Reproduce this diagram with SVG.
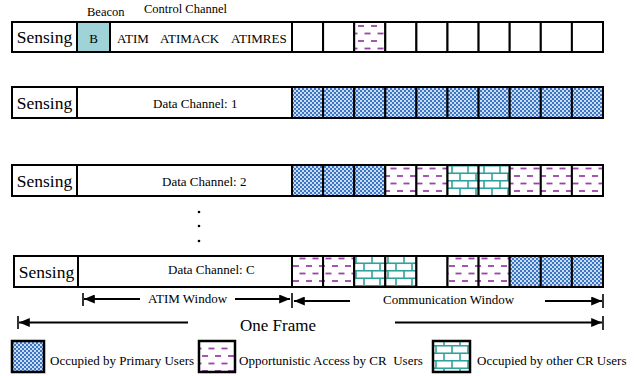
<svg xmlns="http://www.w3.org/2000/svg" width="638" height="376" viewBox="0 0 638 376">
<style>
.cell{stroke:#000;stroke-width:2}
.w{fill:#fff}
.bc{fill:#9fd3d7}
.pu{fill:url(#pu)}
.op{fill:url(#op)}
.cr{fill:url(#cr)}
.lbl{font-family:"Liberation Serif","Times New Roman",serif;fill:#000}
.sens{font-size:17.5px}
.t13{font-size:13px}
.t12{font-size:12.5px}
.big{font-size:17px}
.ln{stroke:#000;stroke-width:2;fill:none}
.tick{stroke:#000;stroke-width:1.6}
.lg{stroke:#000;stroke-width:2.5}
</style>
<defs>
<pattern id="pu" patternUnits="userSpaceOnUse" width="4" height="4">
<rect width="4" height="4" fill="#3b77c5"/>
<rect x="0" y="0" width="2" height="2" fill="#c9dcf3"/>
<rect x="2" y="2" width="2" height="2" fill="#c9dcf3"/>
</pattern>
<pattern id="op" patternUnits="userSpaceOnUse" width="13" height="15">
<rect width="13" height="15" fill="#fff"/>
<line x1="0.5" y1="3.5" x2="6.5" y2="3.5" stroke="#9a43a8" stroke-width="1.8"/>
<line x1="7" y1="11" x2="13" y2="11" stroke="#9a43a8" stroke-width="1.8"/>
</pattern>
<pattern id="cr" patternUnits="userSpaceOnUse" width="16" height="15">
<rect width="16" height="15" fill="#fff"/>
<line x1="0" y1="0.75" x2="16" y2="0.75" stroke="#2fa39b" stroke-width="1.6"/>
<line x1="0" y1="8.25" x2="16" y2="8.25" stroke="#2fa39b" stroke-width="1.6"/>
<line x1="4" y1="0.75" x2="4" y2="8.25" stroke="#2fa39b" stroke-width="1.6"/>
<line x1="12" y1="8.25" x2="12" y2="15.75" stroke="#2fa39b" stroke-width="1.6"/>
</pattern>
<marker id="ah" viewBox="0 0 12 10" refX="12" refY="5" markerWidth="12" markerHeight="9" markerUnits="userSpaceOnUse" orient="auto">
<path d="M0,0 L12,5 L0,10 z" fill="#000"/>
</marker>
</defs>
<rect width="638" height="376" fill="#fff"/>

<text class="lbl t12" x="87" y="16">Beacon</text>
<text class="lbl t12" x="144" y="13">Control Channel</text>

<g id="control-channel-row">
<rect class="cell w" x="12" y="22" width="65" height="30"/>
<rect class="cell bc" x="77" y="22" width="33" height="30"/>
<rect class="cell w" x="110" y="22" width="182" height="30"/>
<rect class="cell w" x="292" y="22" width="31.1" height="30"/>
<rect class="cell w" x="323.1" y="22" width="31.1" height="30"/>
<rect class="cell op" x="354.2" y="22" width="31.1" height="30"/>
<rect class="cell w" x="385.3" y="22" width="31.1" height="30"/>
<rect class="cell w" x="416.4" y="22" width="31.1" height="30"/>
<rect class="cell w" x="447.5" y="22" width="31.1" height="30"/>
<rect class="cell w" x="478.6" y="22" width="31.1" height="30"/>
<rect class="cell w" x="509.7" y="22" width="31.1" height="30"/>
<rect class="cell w" x="540.8" y="22" width="31.1" height="30"/>
<rect class="cell w" x="571.9" y="22" width="31.1" height="30"/>
<text class="lbl sens" x="44.5" y="43" text-anchor="middle">Sensing</text>
<text class="lbl t13" x="93.5" y="42.5" text-anchor="middle">B</text>
<text class="lbl t13" x="117" y="42.5">ATIM</text>
<text class="lbl t13" x="160" y="42.5">ATIMACK</text>
<text class="lbl t13" x="231" y="42.5">ATIMRES</text>
</g>

<g id="data-channel-1">
<rect class="cell w" x="12" y="87" width="65" height="31"/>
<rect class="cell w" x="77" y="87" width="215" height="31"/>
<rect class="cell pu" x="292" y="87" width="31.1" height="31"/>
<rect class="cell pu" x="323.1" y="87" width="31.1" height="31"/>
<rect class="cell pu" x="354.2" y="87" width="31.1" height="31"/>
<rect class="cell pu" x="385.3" y="87" width="31.1" height="31"/>
<rect class="cell pu" x="416.4" y="87" width="31.1" height="31"/>
<rect class="cell pu" x="447.5" y="87" width="31.1" height="31"/>
<rect class="cell pu" x="478.6" y="87" width="31.1" height="31"/>
<rect class="cell pu" x="509.7" y="87" width="31.1" height="31"/>
<rect class="cell pu" x="540.8" y="87" width="31.1" height="31"/>
<rect class="cell pu" x="571.9" y="87" width="31.1" height="31"/>
<text class="lbl sens" x="44.5" y="108.5" text-anchor="middle">Sensing</text>
<text class="lbl t13" x="153" y="107.5">Data Channel: 1</text>
</g>

<g id="data-channel-2">
<rect class="cell w" x="12" y="165" width="65" height="31"/>
<rect class="cell w" x="77" y="165" width="215" height="31"/>
<rect class="cell pu" x="292" y="165" width="31.1" height="31"/>
<rect class="cell pu" x="323.1" y="165" width="31.1" height="31"/>
<rect class="cell pu" x="354.2" y="165" width="31.1" height="31"/>
<rect class="cell op" x="385.3" y="165" width="31.1" height="31"/>
<rect class="cell op" x="416.4" y="165" width="31.1" height="31"/>
<rect class="cell cr" x="447.5" y="165" width="31.1" height="31"/>
<rect class="cell cr" x="478.6" y="165" width="31.1" height="31"/>
<rect class="cell op" x="509.7" y="165" width="31.1" height="31"/>
<rect class="cell op" x="540.8" y="165" width="31.1" height="31"/>
<rect class="cell op" x="571.9" y="165" width="31.1" height="31"/>
<text class="lbl sens" x="44.5" y="186.5" text-anchor="middle">Sensing</text>
<text class="lbl t13" x="162" y="186">Data Channel: 2</text>
</g>

<g id="ellipsis">
<circle cx="199" cy="212" r="1.3" fill="#000"/>
<circle cx="199" cy="226" r="1.3" fill="#000"/>
<circle cx="199" cy="241" r="1.3" fill="#000"/>
</g>

<g id="data-channel-c">
<rect class="cell w" x="14" y="256" width="64" height="31"/>
<rect class="cell w" x="78" y="256" width="214" height="31"/>
<rect class="cell op" x="292" y="256" width="31.1" height="31"/>
<rect class="cell op" x="323.1" y="256" width="31.1" height="31"/>
<rect class="cell cr" x="354.2" y="256" width="31.1" height="31"/>
<rect class="cell cr" x="385.3" y="256" width="31.1" height="31"/>
<rect class="cell w" x="416.4" y="256" width="31.1" height="31"/>
<rect class="cell op" x="447.5" y="256" width="31.1" height="31"/>
<rect class="cell op" x="478.6" y="256" width="31.1" height="31"/>
<rect class="cell pu" x="509.7" y="256" width="31.1" height="31"/>
<rect class="cell pu" x="540.8" y="256" width="31.1" height="31"/>
<rect class="cell pu" x="571.9" y="256" width="31.1" height="31"/>
<text class="lbl sens" x="46.5" y="277.5" text-anchor="middle">Sensing</text>
<text class="lbl t13" x="168" y="274">Data Channel: C</text>
</g>

<g id="connectors">
<line class="tick" x1="83" y1="293" x2="83" y2="306"/>
<line class="ln" x1="140" y1="299" x2="84" y2="299" marker-end="url(#ah)"/>
<line class="ln" x1="235" y1="299" x2="290" y2="299" marker-end="url(#ah)"/>
<line class="tick" x1="292" y1="293" x2="292" y2="308"/>
<line class="ln" x1="350" y1="301" x2="294" y2="301" marker-end="url(#ah)"/>
<line class="ln" x1="545" y1="301" x2="602" y2="301" marker-end="url(#ah)"/>
<line class="tick" x1="603" y1="294" x2="603" y2="308"/>
<line class="tick" x1="18" y1="316" x2="18" y2="329"/>
<line class="ln" x1="188" y1="322.5" x2="19" y2="322.5" marker-end="url(#ah)"/>
<line class="ln" x1="395" y1="322.5" x2="602" y2="322.5" marker-end="url(#ah)"/>
<line class="tick" x1="603" y1="316" x2="603" y2="330"/>
</g>
<text class="lbl t13" x="148" y="303">ATIM Window</text>
<text class="lbl t13" x="383" y="304">Communication Window</text>
<text class="lbl big" x="240" y="331">One Frame</text>

<g id="legend-primary">
<rect class="lg pu" x="12" y="341" width="32" height="31"/>
<text class="lbl t13" x="50" y="365">Occupied by Primary Users</text>
</g>
<g id="legend-opportunistic">
<rect class="lg op" x="199" y="341" width="36" height="31"/>
<text class="lbl t13" x="239" y="365" xml:space="preserve">Opportunistic Access by CR  Users</text>
</g>
<g id="legend-other-cr">
<rect class="lg cr" x="433" y="341" width="37" height="31"/>
<text class="lbl t13" x="477" y="365">Occupied by other CR Users</text>
</g>
</svg>
